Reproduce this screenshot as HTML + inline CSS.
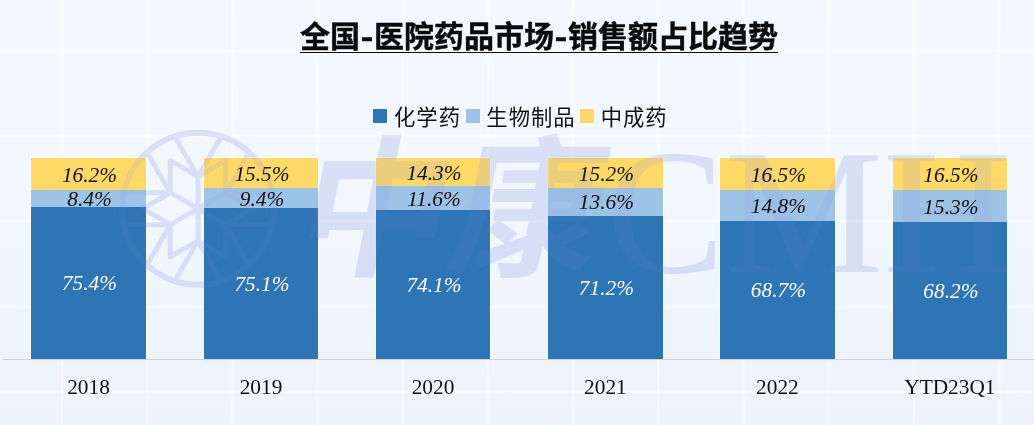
<!DOCTYPE html>
<html lang="zh-CN">
<head>
<meta charset="utf-8">
<title>全国-医院药品市场-销售额占比趋势</title>
<style>
html,body{margin:0;padding:0;}
body{width:1034px;height:425px;overflow:hidden;background:#f1f6fd;}
#c{position:relative;width:1034px;height:425px;overflow:hidden;
 background:linear-gradient(180deg,#f4f8fe 0%,#f2f7fe 50%,#ecf3fc 100%);}
#grid{position:absolute;left:0;top:0;width:1034px;height:425px;
 background-image:
  linear-gradient(90deg,rgba(255,255,255,0) 0,rgba(255,255,255,.45) 1.5px,rgba(255,255,255,.45) 2.5px,rgba(255,255,255,0) 4px),
  linear-gradient(180deg,rgba(255,255,255,0) 0,rgba(255,255,255,.45) 1.5px,rgba(255,255,255,.45) 2.5px,rgba(255,255,255,0) 4px);
 background-size:85.2px 85.2px;background-position:60px 49px;}
.seg{position:absolute;}
.lab{position:absolute;width:116px;text-align:center;font-family:"Liberation Serif",serif;
 font-style:italic;font-size:21.33px;line-height:24px;height:24px;color:#111;white-space:nowrap;}
.lab.w{color:#fff;}
.yr{position:absolute;width:160px;text-align:center;font-family:"Liberation Serif",serif;
 font-size:21.33px;line-height:24px;height:24px;color:#111;white-space:nowrap;}
#axis{position:absolute;left:2.5px;top:358.6px;width:1034px;height:1.3px;background:#d0d4da;}
#title{position:absolute;left:300px;top:17.3px;-webkit-text-stroke:0.45px #0a0a0a;height:40px;line-height:40px;white-space:nowrap;
 font-family:"Liberation Sans","Noto Sans CJK SC",sans-serif;font-weight:700;font-size:30px;color:#0a0a0a;}
#tu{position:absolute;left:300px;top:51.5px;width:478px;height:1.7px;background:#0a0a0a;}
.lg{position:absolute;top:103.5px;height:28px;line-height:28px;white-space:nowrap;
 font-family:"Liberation Sans","Noto Sans CJK SC",sans-serif;font-size:21.33px;color:#111;letter-spacing:1px;}
.sw{position:absolute;top:109px;width:14px;height:14px;}
#wm{position:absolute;left:0;top:0;}
.hy{display:inline-block;width:14px;text-align:center;transform:scaleX(1.25);}
</style>
</head>
<body>
<div id="c">
<div id="grid"></div>
<div class="seg" style="left:30.0px;top:157.0px;width:117.0px;height:201.6px;background:rgba(255,255,255,.6)"></div>
<div class="seg" style="left:31.0px;top:158.0px;width:115px;height:33.0px;background:#FFD966"></div>
<div class="seg" style="left:31.0px;top:189.8px;width:115px;height:18.1px;background:#9DC3E6"></div>
<div class="seg" style="left:31.0px;top:207.3px;width:115px;height:151.3px;background:#2E75B6"></div>
<div class="seg" style="left:203.0px;top:157.0px;width:116.0px;height:201.6px;background:rgba(255,255,255,.6)"></div>
<div class="seg" style="left:204.0px;top:158.0px;width:114px;height:31.6px;background:#FFD966"></div>
<div class="seg" style="left:204.0px;top:188.4px;width:114px;height:20.1px;background:#9DC3E6"></div>
<div class="seg" style="left:204.0px;top:207.9px;width:114px;height:150.7px;background:#2E75B6"></div>
<div class="seg" style="left:375.0px;top:157.0px;width:116.0px;height:201.6px;background:rgba(255,255,255,.6)"></div>
<div class="seg" style="left:376.0px;top:158.0px;width:114px;height:29.2px;background:#FFD966"></div>
<div class="seg" style="left:376.0px;top:186.0px;width:114px;height:24.5px;background:#9DC3E6"></div>
<div class="seg" style="left:376.0px;top:210.0px;width:114px;height:148.6px;background:#2E75B6"></div>
<div class="seg" style="left:547.0px;top:157.0px;width:116.8px;height:201.6px;background:rgba(255,255,255,.6)"></div>
<div class="seg" style="left:548.0px;top:158.0px;width:114.8px;height:31.0px;background:#FFD966"></div>
<div class="seg" style="left:548.0px;top:187.8px;width:114.8px;height:28.5px;background:#9DC3E6"></div>
<div class="seg" style="left:548.0px;top:215.8px;width:114.8px;height:142.8px;background:#2E75B6"></div>
<div class="seg" style="left:719.0px;top:157.0px;width:116.8px;height:201.6px;background:rgba(255,255,255,.6)"></div>
<div class="seg" style="left:720.0px;top:158.0px;width:114.8px;height:33.6px;background:#FFD966"></div>
<div class="seg" style="left:720.0px;top:190.4px;width:114.8px;height:30.9px;background:#9DC3E6"></div>
<div class="seg" style="left:720.0px;top:220.8px;width:114.8px;height:137.8px;background:#2E75B6"></div>
<div class="seg" style="left:892.0px;top:157.0px;width:115.8px;height:201.6px;background:rgba(255,255,255,.6)"></div>
<div class="seg" style="left:893.0px;top:158.0px;width:113.8px;height:33.6px;background:#FFD966"></div>
<div class="seg" style="left:893.0px;top:190.4px;width:113.8px;height:31.9px;background:#9DC3E6"></div>
<div class="seg" style="left:893.0px;top:221.8px;width:113.8px;height:136.8px;background:#2E75B6"></div>
<div id="axis"></div>
<svg id="wm" width="1034" height="425" viewBox="0 0 1034 425">
<mask id="mk" maskUnits="userSpaceOnUse" x="0" y="0" width="1034" height="425"><rect x="0" y="0" width="1034" height="425" fill="#fff"/><rect x="31.0" y="158.0" width="115" height="49.3" fill="#a8a8a8"/><rect x="31.0" y="207.3" width="115" height="151.3" fill="#4d4d4d"/><rect x="204.0" y="158.0" width="114" height="49.9" fill="#a8a8a8"/><rect x="204.0" y="207.9" width="114" height="150.7" fill="#4d4d4d"/><rect x="376.0" y="158.0" width="114" height="52.0" fill="#a8a8a8"/><rect x="376.0" y="210.0" width="114" height="148.6" fill="#4d4d4d"/><rect x="548.0" y="158.0" width="114.8" height="57.8" fill="#a8a8a8"/><rect x="548.0" y="215.8" width="114.8" height="142.8" fill="#4d4d4d"/><rect x="720.0" y="158.0" width="114.8" height="62.8" fill="#a8a8a8"/><rect x="720.0" y="220.8" width="114.8" height="137.8" fill="#4d4d4d"/><rect x="893.0" y="158.0" width="113.8" height="63.8" fill="#a8a8a8"/><rect x="893.0" y="221.8" width="113.8" height="136.8" fill="#4d4d4d"/></mask>
<g mask="url(#mk)" opacity="0.27">
<g fill="none" stroke="#8e9fe6" stroke-width="5" stroke-linecap="round" stroke-linejoin="round">
<circle cx="198" cy="208.7" r="76" stroke-width="6"/>
<path d="M198 208.7L198.0 176.7M198.0 176.7L170.3 160.7L170.3 192.7M198.0 176.7L221.3 136.4M198.0 176.7L174.7 136.4M198 208.7L170.3 192.7M170.3 192.7L142.6 208.7L170.3 224.7M170.3 192.7L147.0 152.4M170.3 192.7L123.7 192.7M198 208.7L170.3 224.7M170.3 224.7L170.3 256.7L198.0 240.7M170.3 224.7L123.7 224.7M170.3 224.7L147.0 265.0M198 208.7L198.0 240.7M198.0 240.7L225.7 256.7L225.7 224.7M198.0 240.7L174.7 281.0M198.0 240.7L221.3 281.0M198 208.7L225.7 224.7M225.7 224.7L253.4 208.7L225.7 192.7M225.7 224.7L249.0 265.0M225.7 224.7L272.3 224.7M198 208.7L225.7 192.7M225.7 192.7L225.7 160.7L198.0 176.7M225.7 192.7L272.3 192.7M225.7 192.7L249.0 152.4"/>
</g>
<g fill="#8e9fe6" font-weight="700">
<text x="291" y="264" font-family="'Noto Sans CJK SC',sans-serif" font-size="152" transform="translate(291 264) skewX(-11) translate(-291 -264)">中康</text>
<text x="606" y="272" font-family="'Liberation Serif',serif" font-weight="400" font-size="178">CMH</text>
</g>
</g>
</svg>
<div class="lab" style="left:31.5px;top:162.5px">16.2%</div>
<div class="lab" style="left:31.5px;top:187.2px">8.4%</div>
<div class="lab w" style="left:31.5px;top:271.3px">75.4%</div>
<div class="yr" style="left:8.5px;top:374.8px">2018</div>
<div class="lab" style="left:204.0px;top:161.8px">15.5%</div>
<div class="lab" style="left:204.0px;top:186.8px">9.4%</div>
<div class="lab w" style="left:204.0px;top:271.6px">75.1%</div>
<div class="yr" style="left:181.0px;top:374.8px">2019</div>
<div class="lab" style="left:376.0px;top:160.6px">14.3%</div>
<div class="lab" style="left:376.0px;top:186.6px">11.6%</div>
<div class="lab w" style="left:376.0px;top:272.6px">74.1%</div>
<div class="yr" style="left:353.0px;top:374.8px">2020</div>
<div class="lab" style="left:548.4px;top:161.5px">15.2%</div>
<div class="lab" style="left:548.4px;top:190.4px">13.6%</div>
<div class="lab w" style="left:548.4px;top:275.5px">71.2%</div>
<div class="yr" style="left:525.4px;top:374.8px">2021</div>
<div class="lab" style="left:720.4px;top:162.8px">16.5%</div>
<div class="lab" style="left:720.4px;top:194.2px">14.8%</div>
<div class="lab w" style="left:720.4px;top:278.0px">68.7%</div>
<div class="yr" style="left:697.4px;top:374.8px">2022</div>
<div class="lab" style="left:892.9px;top:162.8px">16.5%</div>
<div class="lab" style="left:892.9px;top:194.7px">15.3%</div>
<div class="lab w" style="left:892.9px;top:278.5px">68.2%</div>
<div class="yr" style="left:869.9px;top:374.8px">YTD23Q1</div>
<div id="title">全国<span class="hy">-</span>医院药品市场<span class="hy">-</span>销售额占比趋势</div><div id="tu"></div>
<div class="sw" style="left:373px;background:#2E75B6"></div><div class="lg" style="left:394px">化学药</div>
<div class="sw" style="left:466px;background:#9DC3E6"></div><div class="lg" style="left:486.3px">生物制品</div>
<div class="sw" style="left:580px;background:#FFD966"></div><div class="lg" style="left:600.7px">中成药</div>
</div>
</body>
</html>
